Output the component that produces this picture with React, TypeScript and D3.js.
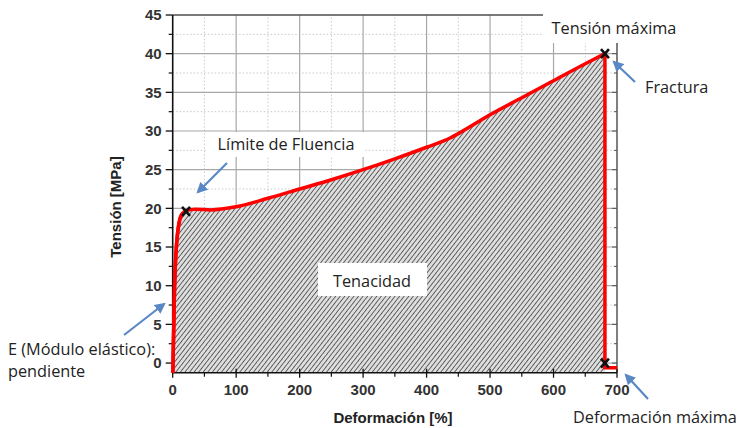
import React from "react";
import * as d3 from "d3";

const strain = [0.3, 1, 2, 3, 5, 8, 12, 16, 21, 35, 60, 100, 150, 200, 250, 300, 350, 400, 437, 455, 500, 550, 600, 650, 681];
const stress = [-1.25, 2, 6, 10, 14, 17, 18.8, 19.4, 19.7, 19.9, 19.8, 20.2, 21.3, 22.5, 23.7, 25.0, 26.4, 27.9, 29.1, 29.9, 32.1, 34.3, 36.5, 38.7, 40];
const dropStrain = [681, 681, 700];
const dropStress = [40, -0.6, -0.6];
const markStrain = [21, 681, 681];
const markStress = [19.6, 40, 0];
const xTicks = [0, 100, 200, 300, 400, 500, 600, 700];
const yTicks = [0, 5, 10, 15, 20, 25, 30, 35, 40, 45];

const W = 739, H = 428;
const x = d3.scaleLinear().domain([0, 700]).range([172.7, 617]);
const y = d3.scaleLinear().domain([-1.25, 45]).range([372.7, 15]);

const axisFont = "'Liberation Sans', Arial, sans-serif";
const noteFont = "'Open Sans', sans-serif";
const noteSize = 16.3;
const blue = "#5a87c5";

export default function App() {
  const pts: [number, number][] = strain.map((s, i) => [s, stress[i]]);
  const line = d3.line<[number, number]>().x(d => x(d[0])).y(d => y(d[1])).curve(d3.curveMonotoneX);
  const area = d3.area<[number, number]>().x(d => x(d[0])).y0(y(-1.25)).y1(d => y(d[1])).curve(d3.curveMonotoneX);
  const lineY = d3.line<[number, number]>().x(d => x(d[0])).y(d => y(d[1])).curve(d3.curveMonotoneY);
  const drop: [number, number][] = dropStrain.map((s, i) => [s, dropStress[i]]);
  const dropLine = d3.line<[number, number]>().x(d => x(d[0])).y(d => y(d[1]));
  const minorX = d3.range(50, 700, 100);
  const minorY = d3.range(2.5, 45, 5);
  const [x0, x1] = x.range();
  const [yb, yt] = y.range();
  return (
    <svg width={W} height={H} style={{ position: "absolute", left: 0, top: 0, background: "#fff" }}>
      <defs>
        <pattern id="hatch" width="3.6" height="3.6" patternUnits="userSpaceOnUse" patternTransform="rotate(38)">
          <rect width="3.6" height="3.6" fill="#dedede" />
          <line x1="0" y1="0" x2="0" y2="3.6" stroke="#3a3a3a" strokeWidth="1.5" />
        </pattern>
        <marker id="arr" viewBox="0 0 10 10" refX="8" refY="5" markerWidth="5" markerHeight="5" orient="auto">
          <path d="M0,0 L10,5 L0,10 z" fill={blue} />
        </marker>
      </defs>
      {/* grid */}
      {minorX.map(v => <line key={"mx" + v} x1={x(v)} x2={x(v)} y1={yb} y2={yt} stroke="#c8c8c8" strokeDasharray="1.5,2" />)}
      {minorY.map(v => <line key={"my" + v} x1={x0} x2={x1} y1={y(v)} y2={y(v)} stroke="#c8c8c8" strokeDasharray="1.5,2" />)}
      {xTicks.slice(1, -1).map(v => <line key={"gx" + v} x1={x(v)} x2={x(v)} y1={yb} y2={yt} stroke="#a8a8a8" strokeWidth={1.2} />)}
      {yTicks.map(v => <line key={"gy" + v} x1={x0} x2={x1} y1={y(v)} y2={y(v)} stroke="#a8a8a8" strokeWidth={1.2} />)}
      {/* hatched area */}
      <path d={area(pts)!} fill="url(#hatch)" />
      {/* frame */}
      <line x1={x0} x2={x1} y1={yt} y2={yt} stroke="#222" strokeWidth={1.2} />
      <line x1={x1} x2={x1} y1={yt} y2={yb} stroke="#555" strokeWidth={1.5} />
      <line x1={x0} x2={x0} y1={yt} y2={yb + 0.5} stroke="#111" strokeWidth={1.6} />
      <line x1={x0} x2={x1} y1={yb} y2={yb} stroke="#111" strokeWidth={1.6} />
      {/* y ticks */}
      {yTicks.map(v => <g key={"yt" + v}>
        <line x1={x0 - 7} x2={x0} y1={y(v)} y2={y(v)} stroke="#111" strokeWidth={1.3} />
        <line x1={x1 - 5} x2={x1} y1={y(v)} y2={y(v)} stroke="#555" strokeWidth={1} />
        <text x={x0 - 11} y={y(v)} dy="0.36em" textAnchor="end" fontFamily={axisFont} fontWeight="bold" fontSize={15} fill="#333">{v}</text>
      </g>)}
      {minorY.map(v => <g key={"ym" + v}>
        <line x1={x0 - 4} x2={x0} y1={y(v)} y2={y(v)} stroke="#111" strokeWidth={1.2} />
        <line x1={x1 - 3} x2={x1} y1={y(v)} y2={y(v)} stroke="#555" strokeWidth={1} />
      </g>)}
      {/* x ticks */}
      {xTicks.map(v => <g key={"xt" + v}>
        <line x1={x(v)} x2={x(v)} y1={yb - 4} y2={yb + 5} stroke="#111" strokeWidth={1.3} />
        <text x={x(v)} y={yb + 22.5} textAnchor="middle" fontFamily={axisFont} fontWeight="bold" fontSize={15} fill="#333">{v}</text>
      </g>)}
      {minorX.map(v => <line key={"xm" + v} x1={x(v)} x2={x(v)} y1={yb} y2={yb + 4} stroke="#111" strokeWidth={1.2} />)}
      {/* axis titles */}
      <text transform={`translate(121,${207}) rotate(-90)`} textAnchor="middle" fontFamily={axisFont} fontWeight="bold" fontSize={15} fill="#222">Tensión [MPa]</text>
      <text x={393} y={423} textAnchor="middle" fontFamily={axisFont} fontWeight="bold" fontSize={15} fill="#222">Deformación [%]</text>
      {/* curve */}
      <path d={line(pts)!} fill="none" stroke="#ff0000" strokeWidth={3.5} strokeLinejoin="round" />
      <path d={lineY(pts.slice(0, 8))!} fill="none" stroke="#ff0000" strokeWidth={3.5} />
      <path d={dropLine(drop)!} fill="none" stroke="#ff0000" strokeWidth={3.5} />
      {/* markers */}
      {markStrain.map((s, i) => <g key={"mk" + i} transform={`translate(${x(s)},${y(markStress[i])})`}>
        <path d="M-4,-4.5 L4,4.5 M4,-4.5 L-4,4.5" stroke="#111" strokeWidth={2.6} />
      </g>)}
      {/* annotation boxes */}
      <rect x={207} y={132} width={158} height={25} fill="#fff" />
      <text x={286} y={144} dy="0.35em" textAnchor="middle" fontFamily={noteFont} fontSize={noteSize} fill="#222">Límite de Fluencia</text>
      <rect x={318} y={263} width={109} height={33} fill="#fff" />
      <text x={372} y={281} dy="0.35em" textAnchor="middle" fontFamily={noteFont} fontSize={noteSize} fill="#222">Tenacidad</text>
      <rect x={543} y={10} width={150} height={33} fill="#fff" />
      <text x={614} y={28} dy="0.35em" textAnchor="middle" fontFamily={noteFont} fontSize={noteSize} fill="#222">Tensión máxima</text>
      <text x={645} y={87} dy="0.35em" fontFamily={noteFont} fontSize={noteSize} fill="#222">Fractura</text>
      <text x={8} y={349} dy="0.35em" fontFamily={noteFont} fontSize={noteSize} fill="#222">E (Módulo elástico):</text>
      <text x={8} y={371} dy="0.35em" fontFamily={noteFont} fontSize={noteSize} fill="#222">pendiente</text>
      <text x={573} y={417} dy="0.35em" fontFamily={noteFont} fontSize={noteSize} fill="#222">Deformación máxima</text>
      {/* arrows */}
      <line x1={227} y1={163} x2={198} y2={192} stroke={blue} strokeWidth={2.2} markerEnd="url(#arr)" />
      <line x1={124} y1={335} x2={164} y2={304} stroke={blue} strokeWidth={2.2} markerEnd="url(#arr)" />
      <line x1={635} y1={82} x2={614} y2={62} stroke={blue} strokeWidth={2.2} markerEnd="url(#arr)" />
      <line x1={648} y1={399} x2={626} y2={375} stroke={blue} strokeWidth={2.2} markerEnd="url(#arr)" />
    </svg>
  );
}
